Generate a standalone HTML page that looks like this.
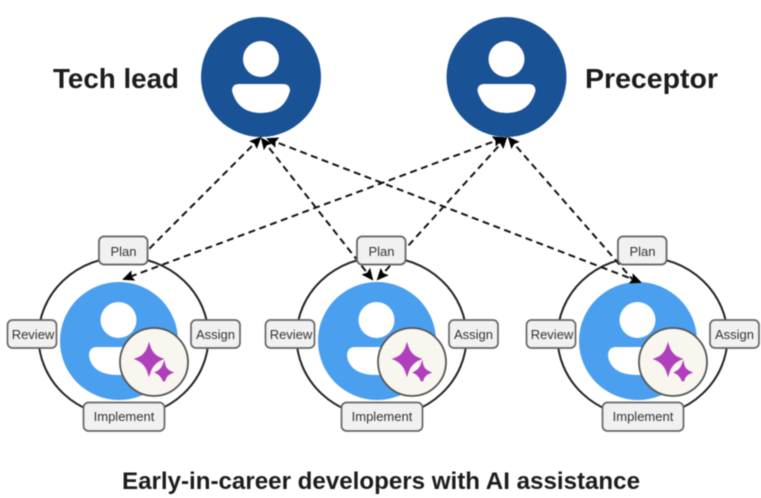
<!DOCTYPE html>
<html><head><meta charset="utf-8">
<style>html,body{margin:0;padding:0;background:#fff}svg{display:block;filter:blur(.5px)}
text{font-family:"Liberation Sans",sans-serif}
.b{fill:#f1f1f1;stroke:#666;stroke-width:1.7}
.t{font-size:13px;fill:#333;text-anchor:middle}
.d{stroke:#111;stroke-width:2;stroke-dasharray:7 4.5;fill:none}
</style></head><body>
<svg width="761" height="498" viewBox="0 0 761 498" xmlns="http://www.w3.org/2000/svg">
<defs>
<marker id="a" markerWidth="13" markerHeight="12" refX="10" refY="6" orient="auto-start-reverse" markerUnits="userSpaceOnUse"><path d="M0 0.5L12 6L0 11.5L2 6Z" fill="#000"/></marker>
<g id="g">
<ellipse cx="123.500" cy="337" rx="85" ry="80" fill="none" stroke="#222" stroke-width="2"/>
<circle cx="119" cy="341" r="59" fill="#4a9fee"/>
<circle cx="118.500" cy="320" r="18" fill="#fff"/>
<path d="M97 347H141Q150 347 150 356Q146 375 119 375Q92 375 89 356Q89 347 97 347Z" fill="#fff"/>
<circle cx="154" cy="362" r="34" fill="#f9f6ef" stroke="#555" stroke-width="1.8"/>
<path d="M149 346Q152 356 161 359Q152 363 149 373Q146 363 137 359Q146 356 149 346Z" fill="#b03fbd" stroke="#b03fbd" stroke-width="2.500"/>
<path d="M164 364.500Q165 370 171 372.500Q165 375 164 381Q162 375 157 372.500Q162 370 164 364.500Z" fill="#b03fbd" stroke="#b03fbd" stroke-width="2.500"/>
<rect class="b" x="99" y="236.500" width="48.500" height="28" rx="5"/><text class="t" x="123.500" y="256">Plan</text>
<rect class="b" x="7.500" y="320" width="49" height="28" rx="5"/><text class="t" x="33" y="339">Review</text>
<rect class="b" x="191" y="320" width="49" height="28" rx="5"/><text class="t" x="215.500" y="339">Assign</text>
<rect class="b" x="83.500" y="402.500" width="81" height="28.500" rx="5"/><text class="t" x="124" y="421">Implement</text>
</g>
<g id="p">
<circle cx="261" cy="77" r="60" fill="#1a5296"/>
<circle cx="261" cy="59" r="18" fill="#fff"/>
<path d="M239 84H283Q290 84 290 91Q284 113 261 113Q238 113 232 91Q232 84 239 84Z" fill="#fff"/>
</g>
</defs>
<use href="#p"/><use href="#p" x="245.500"/>
<use href="#g"/><use href="#g" x="258"/><use href="#g" x="519"/>
<path class="d" marker-start="url(#a)" d="M260 138L148 250"/>
<path class="d" marker-start="url(#a)" marker-end="url(#a)" d="M262 139L372 279"/>
<path class="d" marker-start="url(#a)" marker-end="url(#a)" d="M268 139L640 282"/>
<path class="d" marker-start="url(#a)" marker-end="url(#a)" d="M503 138L124 279"/>
<path class="d" marker-start="url(#a)" marker-end="url(#a)" d="M506 138L378 279"/>
<path class="d" marker-start="url(#a)" d="M509 138L633 280"/>
<rect class="b" x="99" y="236.500" width="48.500" height="28" rx="5"/><text class="t" x="123.500" y="256">Plan</text>
<rect class="b" x="357" y="236.500" width="48.500" height="28" rx="5"/><text class="t" x="381.500" y="256">Plan</text>
<rect class="b" x="618" y="236.500" width="48.500" height="28" rx="5"/><text class="t" x="642.500" y="256">Plan</text>
<text x="53" y="88" font-size="28" font-weight="700" fill="#1c1c1c" textLength="126" lengthAdjust="spacingAndGlyphs">Tech lead</text>
<text x="585" y="88" font-size="28" font-weight="700" fill="#1c1c1c" textLength="133" lengthAdjust="spacingAndGlyphs">Preceptor</text>
<text x="122" y="489" font-size="24" font-weight="700" fill="#1c1c1c" textLength="518" lengthAdjust="spacingAndGlyphs">Early-in-career developers with AI assistance</text>
</svg>
</body></html>
